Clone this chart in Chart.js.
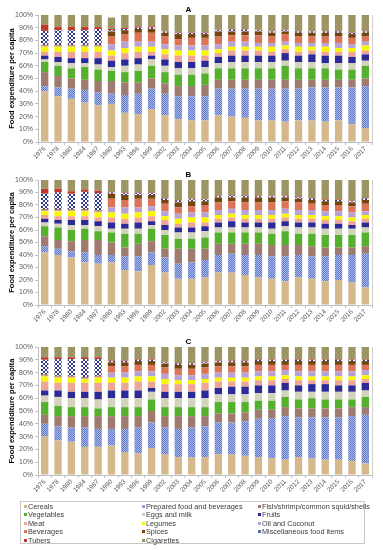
<!DOCTYPE html>
<html>
<head>
<meta charset="utf-8">
<script src="https://cdn.jsdelivr.net/npm/chart.js@4.4.0/dist/chart.umd.min.js"></script>
<style>
  body { margin: 0; background: #fff; width: 383px; height: 550px; position: relative; overflow: hidden; font-family: "Liberation Sans", Arial, sans-serif; }
  canvas { position: absolute; left: 0; }
  #legend { position: absolute; left: 20px; top: 501px; width: 345px; height: 43px; border: 1px solid #c8c8c8; box-sizing: border-box; }
  .item { position: absolute; font-size: 7.3px; white-space: nowrap; line-height: 8px; }
  .item .txt { color: #3a3a3a; }
  .mark { display: inline-block; width: 3px; height: 3px; margin-right: 1px; vertical-align: 1px; }
</style>
</head>
<body>
<canvas id="chartA" width="383" height="170" style="top:0px"></canvas>
<canvas id="chartB" width="383" height="167" style="top:165px"></canvas>
<canvas id="chartC" width="383" height="168" style="top:332px"></canvas>
<div id="legend"></div>
<script>
const years = ['1976','1978','1980','1984','1987','1990','1993','1996','1999','2002','2003','2004','2005',
  '2006','2007','2008','2009','2010','2011','2012','2013','2014','2015','2016','2017']

const categories = ['Cereals', 'Prepared food and beverages', 'Fish/shrimp/common squid/shells',
  'Vegetables', 'Eggs and milk', 'Fruits', 'Meat', 'Legumes', 'Oil and Coconut',
  'Beverages', 'Spices', 'Miscellaneous food items', 'Tubers', 'Cigarettes']

const yTicks = [0, 10, 20, 30, 40, 50, 60, 70, 80, 90, 100]

// panel A
const cerealsA   = [40, 36, 34, 31, 29, 30, 23, 22, 26, 21, 18, 17, 17, 21, 20, 19, 17, 17, 16, 17, 17, 16, 17, 14, 11]
const preparedA  = [4, 7, 8, 10, 10, 8, 14, 16, 16, 17, 18, 19, 19, 21, 22, 23, 25, 25, 26, 25, 26, 27, 26, 29, 33]
const fishA      = [11, 9, 8, 8, 9, 10, 10, 9, 8, 8, 8, 8, 9, 7, 7, 7, 7, 7, 7, 7, 6, 6, 6, 6, 6]
const vegA       = [8, 8, 8, 10, 9, 8, 8, 9, 10, 9, 9, 9, 9, 9, 9, 9, 9, 9, 11, 9, 9, 9, 8, 8, 10]
const eggsA      = [2, 3, 4, 3, 4, 3, 5, 5, 5, 5, 5, 5, 5, 4, 5, 5, 5, 5, 4, 5, 5, 4, 5, 5, 4]
const fruitsA    = [3, 4, 4, 4, 5, 5, 5, 5, 3, 5, 5, 5, 5, 5, 5, 5, 5, 5, 6, 5, 6, 6, 6, 5, 5]
const meatA      = [3, 4, 5, 5, 5, 4, 5, 5, 3, 4, 5, 5, 4, 3, 4, 4, 4, 3, 3, 3, 3, 3, 3, 4, 3]
const legumesA   = [4, 4, 4, 4, 4, 4, 4, 4, 4, 4, 4, 4, 4, 3, 3, 3, 3, 4, 3, 4, 3, 4, 3, 3, 4]
const oilA       = [0.5, 0.5, 0.5, 0.5, 0.5, 5, 5, 4, 4, 4, 4, 4, 4, 4, 4, 4, 3, 3, 3, 3, 3, 3, 4, 3, 3]
const bevA       = [0.5, 0.5, 0.5, 0.5, 0.5, 6, 6, 7, 7, 6, 5, 6, 6, 6, 5, 5, 6, 5, 6, 5, 5, 5, 5, 5, 4]
const spicesA    = [0.5, 0.5, 0.5, 0.5, 0.5, 4, 3, 3, 3, 3, 4, 3, 3, 4, 3, 3, 3, 3, 2, 3, 3, 3, 3, 3, 3]
const miscA      = [11, 11.5, 11.5, 11.5, 12.5, 1, 1, 1, 1, 1, 1, 1, 1, 1, 1.5, 1.5, 1, 1, 1, 1, 1, 1, 1, 1, 1]
const tubersA    = [5, 2.5, 2.5, 2.5, 1.5, 1, 1, 1, 1, 0.5, 0.5, 0.5, 0.5, 0.5, 0.5, 0.5, 0.5, 0.5, 0.5, 0.5, 0.5, 0.5, 0.5, 0.5, 0.5]
const cigA       = [7.5, 9.5, 9.5, 9.5, 9.5, 9, 10, 9, 9, 12.5, 13.5, 13.5, 13.5, 11.5, 11, 11, 11.5, 12.5, 11.5, 12.5, 12.5, 12.5, 12.5, 13.5, 12.5]

// panel B
const cerealsB   = [42, 40, 38, 34, 33, 34, 28, 27, 32, 26, 21, 21, 22, 26, 26, 24, 22, 21, 19, 22, 21, 19, 20, 18, 14]
const preparedB  = [5, 5, 5, 8, 7, 6, 11, 12, 10, 12, 12, 13, 14, 14, 15, 16, 18, 18, 20, 18, 18, 20, 20, 22, 27]
const fishB      = [8, 7, 8, 10, 12, 10, 7, 10, 9, 7, 12, 11, 9, 9, 8, 9, 9, 9, 9, 8, 8, 7, 6, 6, 6]
const vegB       = [8, 10, 9, 9, 7, 8, 11, 8, 10, 11, 8, 8, 9, 9, 9, 9, 9, 9, 11, 9, 10, 10, 10, 10, 11]
const eggsB      = [3, 3, 4, 3, 4, 3, 4, 4, 3, 4, 5, 5, 5, 4, 4, 4, 4, 4, 4, 5, 5, 5, 5, 5, 4]
const fruitsB    = [3, 3, 4, 4, 4, 5, 4, 5, 3, 4, 4, 4, 4, 4, 5, 4, 4, 5, 4, 4, 4, 4, 4, 3, 4]
const meatB      = [3, 3, 3, 3, 3, 4, 4, 4, 4, 4, 3, 4, 3, 3, 3, 3, 3, 3, 3, 3, 3, 3, 3, 3, 3]
const legumesB   = [3, 4, 4, 4, 4, 4, 4, 4, 4, 3, 4, 4, 4, 3, 3, 3, 3, 3, 3, 3, 3, 3, 3, 3, 3]
const oilB       = [0.5, 0.5, 0.5, 0.5, 0.5, 4, 5, 4, 4, 4, 4, 4, 4, 4, 4, 4, 4, 4, 4, 4, 4, 4, 4, 4, 3]
const bevB       = [0.5, 0.5, 0.5, 0.5, 0.5, 7, 6, 7, 6, 6, 5, 5, 6, 6, 6, 6, 6, 6, 6, 6, 5, 5, 5, 5, 6]
const spicesB    = [0.5, 0.5, 0.5, 0.5, 0.5, 4, 4, 3, 3, 3, 4, 4, 3, 4, 3, 4, 4, 4, 3, 3, 3, 3, 3, 3, 3]
const miscB      = [12.5, 13.5, 12.5, 14, 14, 1, 1.5, 1.5, 1.5, 1, 1.5, 1.5, 1.5, 1, 1.5, 1.5, 1, 1, 1, 1, 1, 1, 1, 1, 1]
const tubersB    = [4, 3, 2, 2, 2, 0.5, 0.5, 0.5, 0.5, 0.5, 0.5, 0.5, 0.5, 0.5, 0.5, 0.5, 0.5, 0.5, 0.5, 0.5, 0.5, 0.5, 0.5, 0.5, 0.5]
const cigB       = [7, 7, 9, 7.5, 8.5, 9.5, 10, 10, 10, 14.5, 16, 15, 15, 12.5, 12, 12, 12.5, 12.5, 12.5, 13.5, 14.5, 15.5, 15.5, 16.5, 14.5]

// panel C
const cerealsC   = [30, 27, 26, 22, 22, 23, 18, 17, 21, 16, 14, 14, 14, 16, 16, 15, 14, 13, 12, 14, 13, 12, 12, 11, 9]
const preparedC  = [10, 11, 11, 15, 14, 13, 18, 20, 20, 21, 22, 23, 24, 25, 25, 27, 30, 31, 34, 31, 32, 33, 33, 35, 38]
const fishC      = [7, 8, 9, 9, 10, 10, 10, 9, 9, 9, 10, 9, 8, 7, 7, 7, 7, 7, 7, 7, 7, 7, 7, 7, 6]
const vegC       = [10, 8, 7, 7, 6, 7, 7, 7, 9, 7, 7, 7, 7, 9, 9, 8, 7, 7, 8, 7, 8, 7, 7, 6, 8]
const eggsC      = [5, 7, 7, 7, 7, 7, 7, 7, 6, 7, 7, 7, 7, 6, 6, 6, 6, 6, 5, 6, 5, 6, 6, 6, 5]
const fruitsC    = [4, 5, 5, 5, 6, 6, 6, 6, 3, 5, 5, 5, 6, 5, 6, 6, 6, 6, 6, 5, 6, 6, 5, 5, 6]
const meatC      = [7, 6, 7, 7, 7, 6, 6, 7, 5, 6, 6, 6, 6, 5, 4, 4, 4, 4, 3, 4, 3, 3, 4, 4, 3]
const legumesC   = [4, 4, 4, 3, 4, 4, 4, 4, 4, 4, 3, 3, 3, 3, 3, 3, 3, 3, 3, 3, 3, 3, 3, 3, 3]
const oilC       = [0.5, 0.5, 0.5, 0.5, 0.5, 4, 4, 4, 4, 4, 4, 4, 4, 4, 4, 4, 4, 4, 4, 4, 4, 4, 4, 4, 4]
const bevC       = [0.5, 0.5, 0.5, 0.5, 0.5, 5, 5, 5, 5, 5, 5, 5, 5, 5, 5, 5, 5, 5, 4, 5, 5, 5, 5, 5, 4]
const spicesC    = [0.5, 0.5, 0.5, 0.5, 0.5, 3, 3, 3, 3, 3, 3, 3, 3, 3, 3, 3, 3, 3, 3, 3, 3, 3, 3, 3, 3]
const miscC      = [11.5, 13, 13, 14, 13, 1, 1, 1, 1, 1, 1, 1, 1, 1, 1, 1, 1, 1, 1, 1, 1, 1, 1, 1, 1]
const tubersC    = [2, 1.5, 1.5, 1.5, 1.5, 0.5, 0.5, 0.5, 0.5, 0.5, 0.5, 0.5, 0.5, 0.5, 0.5, 0.5, 0.5, 0.5, 0.5, 0.5, 0.5, 0.5, 0.5, 0.5, 0.5]
const cigC       = [8, 8, 8, 8, 8, 10.5, 10.5, 9.5, 9.5, 11.5, 12.5, 12.5, 11.5, 10.5, 10.5, 10.5, 9.5, 9.5, 9.5, 9.5, 9.5, 9.5, 9.5, 9.5, 9.5]

const seriesA = [cerealsA, preparedA, fishA, vegA, eggsA, fruitsA, meatA, legumesA, oilA, bevA, spicesA, miscA, tubersA, cigA]
const seriesB = [cerealsB, preparedB, fishB, vegB, eggsB, fruitsB, meatB, legumesB, oilB, bevB, spicesB, miscB, tubersB, cigB]
const seriesC = [cerealsC, preparedC, fishC, vegC, eggsC, fruitsC, meatC, legumesC, oilC, bevC, spicesC, miscC, tubersC, cigC]

// little tiles for the hatched series
const tile = (bg, fg, dots) => {
    const c = document.createElement('canvas')
    c.width = 4
    c.height = 4
    const g = c.getContext('2d')
    g.fillStyle = bg
    g.fillRect(0, 0, 4, 4)
    g.fillStyle = fg
    dots.forEach(d => g.fillRect(d[0], d[1], 1, 1))
    return g.createPattern(c, 'repeat')
}

const checkDots = [[0,0],[2,0],[1,1],[3,1],[0,2],[2,2],[1,3],[3,3]]
const crossDots = [[0,0],[1,1],[2,2],[3,3],[3,0],[2,1],[1,2],[0,3]]

const solid = ['#d5b98d', null, '#9e7a6f', '#55b02e', '#d3d3bb', '#2c2a96', '#eea596',
  '#f7f700', '#b6a3d3', '#dc7558', '#74460f', null, '#c0392b', null]
const fills = solid.slice()
fills[1] = tile('#a6b9e6', '#6479c8', checkDots)
fills[11] = tile('#ffffff', '#2d3a8c', crossDots)
fills[13] = tile('#9a9260', '#aea676', [[0,0],[2,2]])

const legendColor = solid.slice()
legendColor[1] = '#8ea6dc'
legendColor[11] = '#5a6ab0'
legendColor[13] = '#9a9260'

const frame = {
    id: 'frame',
    afterDraw(chart) {
        const a = chart.chartArea
        const ctx = chart.ctx
        ctx.save()
        ctx.strokeStyle = '#d0d0d0'
        ctx.lineWidth = 1
        ctx.beginPath()
        ctx.moveTo(Math.round(a.right) + 0.5, a.top)
        ctx.lineTo(Math.round(a.right) + 0.5, a.bottom)
        ctx.stroke()
        ctx.restore()
    }
}

// xBand = room left under the plot for the rotated year labels
const makeChart = (id, title, yTitle, series, xBand) => {
    new Chart(document.getElementById(id), {
        type: 'bar',
        data: {
            labels: years,
            datasets: categories.map((name, i) => ({
                label: name,
                data: series[i],
                backgroundColor: fills[i],
                borderWidth: 0,
                barPercentage: 0.55,
                categoryPercentage: 1
            }))
        },
        options: {
            responsive: false,
            animation: false,
            devicePixelRatio: 1,
            layout: { padding: { left: 5, right: 11, top: 0, bottom: 0 } },
            plugins: {
                legend: { display: false },
                tooltip: { enabled: false },
                title: {
                    display: true,
                    text: title,
                    color: '#000',
                    font: { size: 8, weight: 'bold', family: 'Liberation Sans', lineHeight: 1.2 },
                    padding: { top: 5, bottom: 0.4 }
                }
            },
            scales: {
                x: {
                    stacked: true,
                    afterFit: axis => { axis.height = xBand },
                    border: { color: '#bfbfbf' },
                    grid: { drawOnChartArea: false, offset: true, tickLength: 3, color: '#bfbfbf' },
                    ticks: {
                        autoSkip: false, minRotation: 45, maxRotation: 45, padding: 0,
                        color: '#595959', font: { size: 6.5, family: 'Liberation Sans' }
                    }
                },
                y: {
                    stacked: true,
                    min: 0,
                    max: 100,
                    afterFit: axis => { axis.width = 33 },
                    afterBuildTicks: axis => { axis.ticks = yTicks.map(v => ({ value: v })) },
                    border: { color: '#bfbfbf' },
                    grid: { drawOnChartArea: false, tickLength: 3, color: '#bfbfbf' },
                    ticks: {
                        padding: 2, color: '#595959',
                        font: { size: 7, family: 'Liberation Sans' },
                        callback: v => v + '%'
                    },
                    title: {
                        display: true, text: yTitle, color: '#000', padding: 2,
                        font: { size: 7.5, weight: 'bold', family: 'Liberation Sans' }
                    }
                }
            }
        },
        plugins: [frame]
    })
}

makeChart('chartA', 'A', 'Food expenditure per capita', seriesA, 28)
makeChart('chartB', 'B', 'Food expenditure per capita', seriesB, 27)
makeChart('chartC', 'C', 'Food expendditure per capita', seriesC, 25)

// legend: 3 columns, read row by row
const legend = document.getElementById('legend')
const colX = [3, 121, 237]
categories.forEach((name, i) => {
    const el = document.createElement('div')
    el.className = 'item'
    el.style.left = colX[i % 3] + 'px'
    el.style.top = (1 + Math.floor(i / 3) * 8.4) + 'px'
    el.innerHTML = '<span class="mark" style="background:' + legendColor[i] + '"></span><span class="txt">' + name + '</span>'
    legend.appendChild(el)
})
</script>
</body>
</html>
